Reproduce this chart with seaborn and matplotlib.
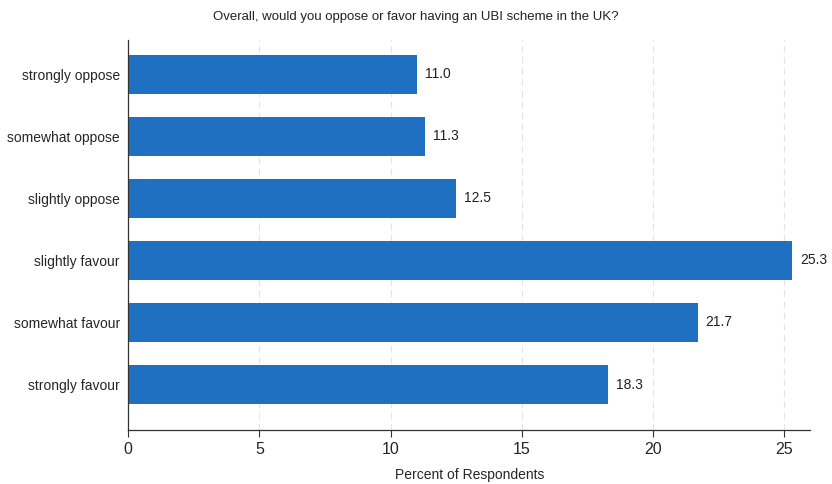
import numpy as np
import pandas as pd
import seaborn as sns
import matplotlib.pyplot as plt

categories = ['strongly oppose', 'somewhat oppose', 'slightly oppose',
              'slightly favour', 'somewhat favour', 'strongly favour']
percents = [11.0, 11.3, 12.5, 25.3, 21.7, 18.3]

df = pd.DataFrame({'answer': categories, 'percent': percents})

sns.set_style('white')
plt.rcParams['font.family'] = ['Liberation Sans', 'DejaVu Sans']

fig = plt.figure(figsize=(8.32, 4.84), dpi=100)
ax = fig.add_axes([0.154, 0.112, 0.82, 0.805])

sns.barplot(data=df, y='answer', x='percent', color='#1f70c1',
            saturation=1, width=0.62, ax=ax, zorder=3,
            edgecolor='none', linewidth=0)

for i, v in enumerate(percents):
    ax.text(v + 0.3, i, f'{v:.1f}', va='center', ha='left', fontsize=10,
            color='#222222')

ax.set_xlim(0, 26)
ax.set_ylim(5.73, -0.55)
ax.set_xticks([0, 5, 10, 15, 20, 25])
for x in [5, 10, 15, 20, 25]:
    ax.axvline(x, color='#e3e3e3', linestyle=(0, (6, 4)), linewidth=0.8,
               zorder=1)

ax.set_xlabel('Percent of Respondents', fontsize=10, labelpad=8)
ax.set_ylabel('')
ax.tick_params(axis='x', direction='out', length=5, width=0.8,
               labelsize=11.5, color='#333333', bottom=True)
ax.tick_params(axis='y', length=0, labelsize=10, pad=6)

for s in ['top', 'right']:
    ax.spines[s].set_visible(False)
for s in ['left', 'bottom']:
    ax.spines[s].set_color('#333333')
    ax.spines[s].set_linewidth(0.9)
    ax.spines[s].set_zorder(4)

fig.text(0.5, 0.965, 'Overall, would you oppose or favor having an UBI scheme in the UK?',
         ha='center', va='center', fontsize=9.5, color='#222222')

fig.savefig('out.png', dpi=100)
